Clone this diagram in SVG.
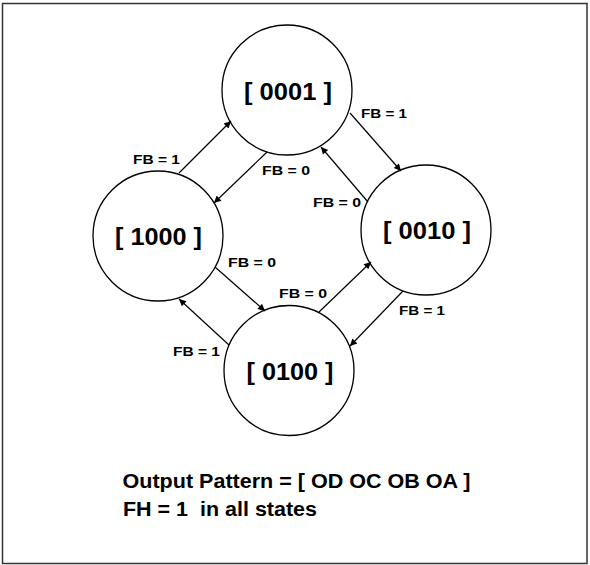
<svg xmlns="http://www.w3.org/2000/svg" width="590" height="565" viewBox="0 0 590 565">
<style>
.frame{fill:#fff;stroke:#333;stroke-width:1.5}
.node{fill:#fff;stroke:#000;stroke-width:1.3}
.nt{font-family:"Liberation Sans",Arial,sans-serif;font-weight:bold;font-size:24px;fill:#000}
.lbl{font-family:"Liberation Sans",Arial,sans-serif;font-weight:bold;font-size:13px;fill:#000}
.note{font-family:"Liberation Sans",Arial,sans-serif;font-weight:bold;font-size:19.5px;fill:#000}
.edge{stroke:#000;stroke-width:1.2;fill:none;marker-end:url(#ah)}
</style>
<defs>
<marker id="ah" viewBox="0 0 10 10" refX="10" refY="5" markerWidth="9" markerHeight="7" markerUnits="userSpaceOnUse" orient="auto">
<path d="M0,0 L10,5 L0,10 z" fill="#000"/>
</marker>
</defs>
<rect class="frame" x="2.5" y="3.5" width="584.5" height="560"/>
<g id="n0001"><circle class="node" cx="287" cy="90" r="65"/><text class="nt" x="244" y="100" textLength="88" lengthAdjust="spacingAndGlyphs">[ 0001 ]</text></g>
<g id="n1000"><circle class="node" cx="158" cy="236" r="65"/><text class="nt" x="115" y="245" textLength="87" lengthAdjust="spacingAndGlyphs">[ 1000 ]</text></g>
<g id="n0010"><circle class="node" cx="426" cy="230" r="65"/><text class="nt" x="383" y="239" textLength="88" lengthAdjust="spacingAndGlyphs">[ 0010 ]</text></g>
<g id="n0100"><circle class="node" cx="289" cy="370.5" r="65"/><text class="nt" x="246.5" y="380" textLength="87" lengthAdjust="spacingAndGlyphs">[ 0100 ]</text></g>
<g id="connectors">
<line class="edge" x1="179" y1="173" x2="231" y2="121"/>
<line class="edge" x1="267" y1="152" x2="214" y2="203"/>
<line class="edge" x1="350" y1="113" x2="401" y2="171"/>
<line class="edge" x1="368" y1="202" x2="321" y2="147"/>
<line class="edge" x1="215" y1="267" x2="265" y2="311"/>
<line class="edge" x1="229" y1="345" x2="179" y2="299"/>
<line class="edge" x1="319" y1="312" x2="371" y2="262"/>
<line class="edge" x1="403" y1="291" x2="350" y2="346"/>
<text class="lbl" x="133" y="164" textLength="47" lengthAdjust="spacingAndGlyphs">FB = 1</text>
<text class="lbl" x="262" y="175" textLength="48" lengthAdjust="spacingAndGlyphs">FB = 0</text>
<text class="lbl" x="361" y="118" textLength="46" lengthAdjust="spacingAndGlyphs">FB = 1</text>
<text class="lbl" x="313" y="207" textLength="48" lengthAdjust="spacingAndGlyphs">FB = 0</text>
<text class="lbl" x="228" y="267" textLength="48" lengthAdjust="spacingAndGlyphs">FB = 0</text>
<text class="lbl" x="173" y="356" textLength="47" lengthAdjust="spacingAndGlyphs">FB = 1</text>
<text class="lbl" x="279" y="298" textLength="48" lengthAdjust="spacingAndGlyphs">FB = 0</text>
<text class="lbl" x="399" y="315" textLength="46" lengthAdjust="spacingAndGlyphs">FB = 1</text>
</g>
<text class="note" x="122.5" y="487.5" textLength="348" lengthAdjust="spacingAndGlyphs">Output Pattern = [ OD OC OB OA ]</text>
<text class="note" x="123" y="516" textLength="194" lengthAdjust="spacingAndGlyphs" xml:space="preserve">FH = 1  in all states</text>
</svg>
